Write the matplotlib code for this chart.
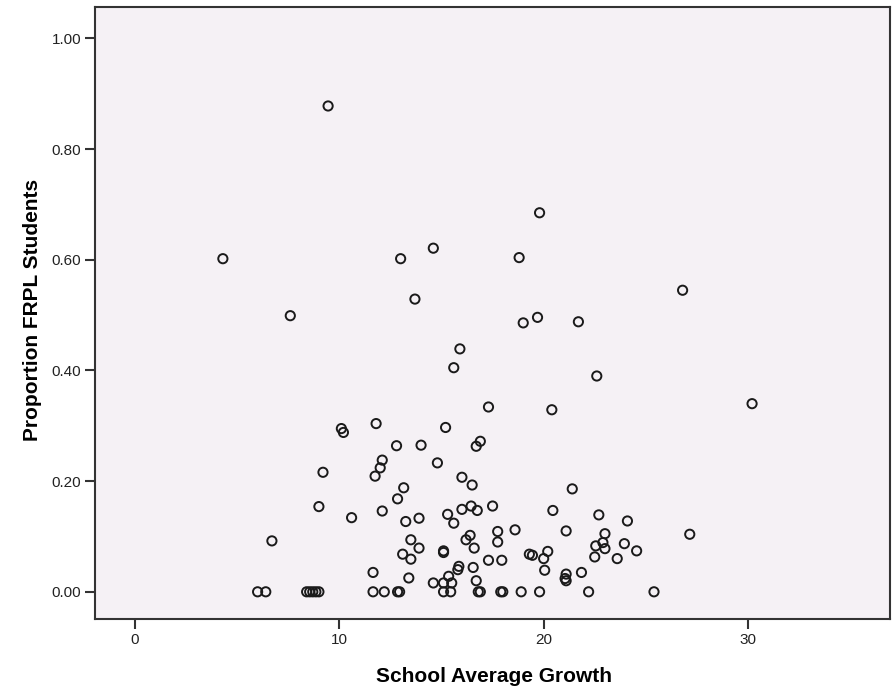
import matplotlib.pyplot as plt
from matplotlib.ticker import FormatStrFormatter

# school average growth vs proportion of FRPL students
growth = [
    4.3, 9.45, 7.6, 13.0, 14.6, 13.7, 18.8, 19.8, 19.0, 19.7, 21.7, 15.9,
    15.6, 22.6, 26.8, 30.2, 17.3, 20.4,
    10.1, 10.2, 11.8, 15.2, 12.8, 14.0, 16.9, 16.7, 14.8, 12.1, 12.0, 11.75,
    9.2, 16.0, 16.5, 21.4, 13.15, 12.85, 9.0, 10.6, 12.1, 13.25, 13.9, 15.3,
    15.6, 16.0, 16.45, 16.75, 17.5, 20.45, 22.7, 24.1, 27.15, 6.7, 13.5, 13.9,
    13.1, 13.5, 15.1, 15.1, 16.4, 16.2, 16.6, 17.75, 17.75, 18.6, 21.1, 23.0,
    22.9, 22.55, 23.0, 23.95, 24.55, 22.5, 23.6, 19.3, 19.45, 20.2, 20.0, 17.3,
    17.95, 15.85, 15.8, 16.55, 20.05, 21.85, 21.1, 21.05, 21.1, 11.65, 13.4,
    14.6, 15.35, 15.1, 15.5, 16.7,
    6.0, 6.4, 8.4, 8.55, 8.7, 8.85, 9.0, 11.65, 12.2, 12.85, 12.95, 15.1,
    15.45, 16.8, 16.9, 17.9, 18.0, 18.9, 19.8, 22.2, 25.4,
]
frpl = [
    0.602, 0.878, 0.499, 0.602, 0.621, 0.529, 0.604, 0.685, 0.486, 0.496,
    0.488, 0.439, 0.405, 0.390, 0.545, 0.340, 0.334, 0.329,
    0.295, 0.288, 0.304, 0.297, 0.264, 0.265, 0.272, 0.263, 0.233, 0.238,
    0.224, 0.209, 0.216, 0.207, 0.193, 0.186, 0.188, 0.168, 0.154, 0.134,
    0.146, 0.127, 0.133, 0.140, 0.124, 0.149, 0.155, 0.147, 0.155, 0.147,
    0.139, 0.128, 0.104, 0.092, 0.094, 0.079, 0.068, 0.059, 0.074, 0.071,
    0.102, 0.094, 0.079, 0.109, 0.090, 0.112, 0.110, 0.105, 0.089, 0.083,
    0.078, 0.087, 0.074, 0.063, 0.060, 0.068, 0.066, 0.073, 0.060, 0.057,
    0.057, 0.046, 0.040, 0.044, 0.039, 0.035, 0.032, 0.024, 0.020, 0.035,
    0.025, 0.016, 0.028, 0.016, 0.016, 0.020,
    0, 0, 0, 0, 0, 0, 0, 0, 0, 0, 0, 0,
    0, 0, 0, 0, 0, 0, 0, 0, 0,
]

x_ticks = [0, 10, 20, 30]
y_ticks = [0.0, 0.2, 0.4, 0.6, 0.8, 1.0]

plt.rcParams['font.family'] = ['Liberation Sans', 'DejaVu Sans']

fig = plt.figure(figsize=(8.95, 6.87), dpi=100)
ax = fig.add_axes([0.1061, 0.0983, 0.8883, 0.8908])
ax.set_facecolor('#f5f1f5')

ax.scatter(growth, frpl, s=44, facecolors='none', edgecolors='#1a1a1a',
           linewidths=1.4, zorder=3)

ax.set_xlim(-1.96, 36.95)
ax.set_ylim(-0.05, 1.056)
ax.set_xticks(x_ticks)
ax.set_yticks(y_ticks)
ax.yaxis.set_major_formatter(FormatStrFormatter('%.2f'))
ax.tick_params(direction='out', length=7, width=1.5, color='#333333',
               labelsize=11, labelcolor='#222222', top=False, right=False,
               pad=3)

for sp in ax.spines.values():
    sp.set_color('#333333')
    sp.set_linewidth(1.5)

ax.set_xlabel('School Average Growth', fontsize=15, fontweight='bold')
ax.set_ylabel('Proportion FRPL Students', fontsize=15, fontweight='bold')
# pin the axis titles where they sit on the page
ax.xaxis.set_label_coords(0.502, -0.077)
ax.yaxis.set_label_coords(-0.066, 0.506)

fig.savefig('out.png', dpi=100)
